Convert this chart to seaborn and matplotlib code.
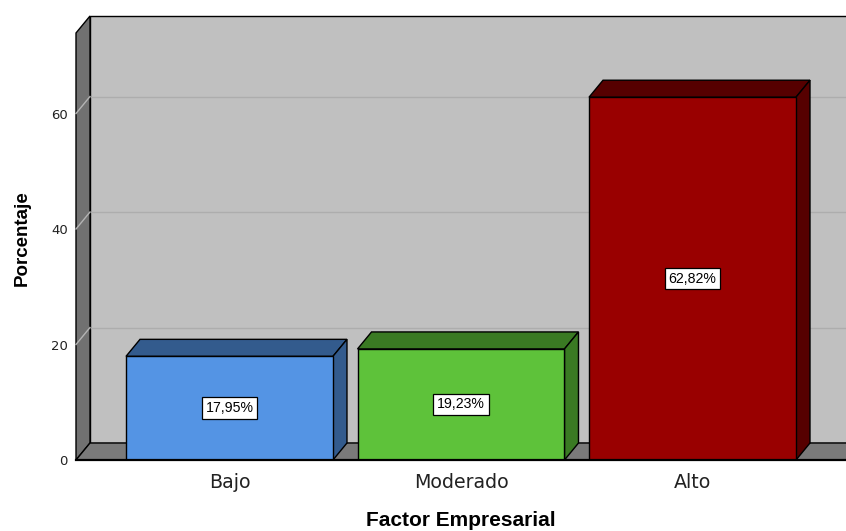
import matplotlib
matplotlib.use("Agg")
import matplotlib.pyplot as plt
from matplotlib.patches import Polygon
import seaborn as sns

# Data
categories = ["Bajo", "Moderado", "Alto"]
percentages = [17.95, 19.23, 62.82]
y_ticks = [0, 20, 40, 60]

front_colors = ["#5494e4", "#5ec23a", "#990000"]
side_colors = ["#335b8d", "#3a7a23", "#560000"]

W, H = 846, 531
fig = plt.figure(figsize=(W / 100, H / 100), dpi=100)
ax_left, ax_bottom, ax_w, ax_h = 76, 71, 770, 427
ax = fig.add_axes([ax_left / W, ax_bottom / H, ax_w / W, ax_h / H])

sns.barplot(x=categories, y=percentages, hue=categories, palette=front_colors,
            width=0.894, edgecolor="black", linewidth=1.0, legend=False,
            saturation=1, ax=ax, zorder=5)

xmin, xmax = -0.663, 2.663
ymin, ymax = 0, 73.94
ax.set_xlim(xmin, xmax)
ax.set_ylim(ymin, ymax)
ax.patch.set_visible(False)
for s in ax.spines.values():
    s.set_visible(False)

# depth of the 3D box, in pixels, converted to data units
depth_px_x, depth_px_y = 14, 17
dx = depth_px_x * (xmax - xmin) / ax_w
dy = depth_px_y * (ymax - ymin) / ax_h

wall_kw = dict(clip_on=False, linewidth=1.0, edgecolor="black")
# back wall
ax.add_patch(Polygon([(xmin + dx, ymin + dy), (xmax + dx, ymin + dy),
                      (xmax + dx, ymax + dy), (xmin + dx, ymax + dy)],
                     facecolor="#c0c0c0", zorder=0, **wall_kw))
# left wall
ax.add_patch(Polygon([(xmin, ymin), (xmin, ymax), (xmin + dx, ymax + dy),
                      (xmin + dx, ymin + dy)],
                     facecolor="#717171", zorder=1, **wall_kw))
# floor
ax.add_patch(Polygon([(xmin, ymin), (xmax, ymin), (xmax + dx, ymin + dy),
                      (xmin + dx, ymin + dy)],
                     facecolor="#7a7a7a", zorder=1, **wall_kw))

# gridlines on the walls
for t in y_ticks[1:]:
    ax.plot([xmin + dx, xmax + dx], [t + dy, t + dy], color="#adadad",
            lw=1.0, zorder=0.5, clip_on=False)
    ax.plot([xmin, xmin + dx], [t, t + dy], color="#b4b4b4",
            lw=1.0, zorder=1.5, clip_on=False)

# front baseline
ax.plot([xmin, xmax + dx], [0, 0], color="black", lw=1.6, zorder=6,
        clip_on=False)

# top and side faces of each bar, plus value labels
for patch, side, val in zip(ax.patches[:len(categories)], side_colors, percentages):
    x0 = patch.get_x()
    w = patch.get_width()
    h = patch.get_height()
    x1 = x0 + w
    top = Polygon([(x0, h), (x1, h), (x1 + dx, h + dy), (x0 + dx, h + dy)],
                  facecolor=side, edgecolor="black", lw=1.0, zorder=4,
                  clip_on=False)
    right = Polygon([(x1, 0), (x1, h), (x1 + dx, h + dy), (x1 + dx, dy)],
                    facecolor=side, edgecolor="black", lw=1.0, zorder=4,
                    clip_on=False)
    ax.add_patch(top)
    ax.add_patch(right)
    ax.text(x0 + w / 2, h / 2, f"{val:.2f}%".replace(".", ","),
            ha="center", va="center", fontsize=10.2,
            family="Liberation Sans", color="black", zorder=8,
            bbox=dict(boxstyle="square,pad=0.27", facecolor="white",
                      edgecolor="black", linewidth=0.9))

ax.set_yticks(y_ticks)
ax.set_yticklabels([str(t) for t in y_ticks], fontsize=9.5,
                   family="DejaVu Sans", color="#222222")
ax.tick_params(axis="y", length=0, pad=6)
ax.tick_params(axis="x", length=0, pad=9, labelsize=13.7, labelcolor="#222222")
ax.set_xlabel("")
ax.set_ylabel("")

fig.text(461 / W, 1 - 521 / H, "Factor Empresarial", ha="center", va="center",
         fontsize=15, fontweight="bold", family="Liberation Sans", color="black")
fig.text(22 / W, 1 - 238 / H, "Porcentaje", ha="center", va="center",
         rotation=90, fontsize=13.5, fontweight="bold",
         family="Liberation Sans", color="black")

fig.savefig("out.png", dpi=100, facecolor="white")
